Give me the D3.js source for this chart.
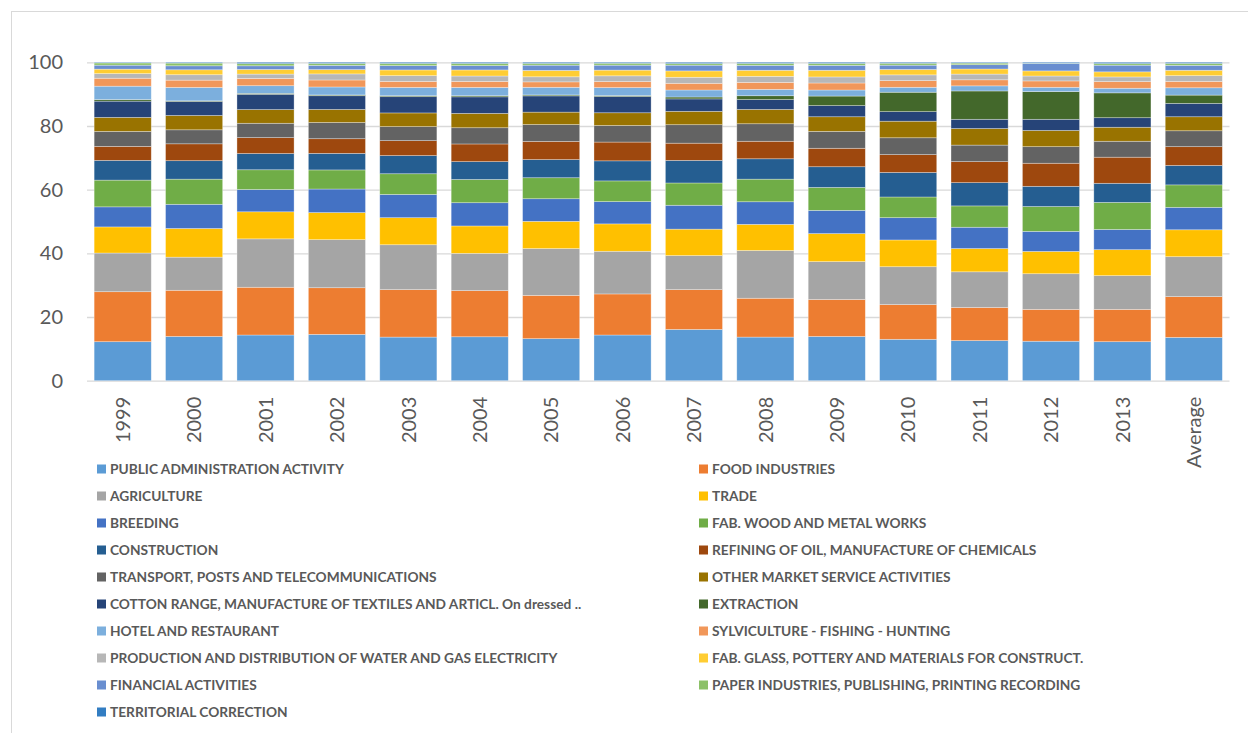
<!DOCTYPE html>
<html>
<head>
<meta charset="utf-8">
<script src="https://cdn.jsdelivr.net/npm/d3@7"></script>
<style>
  html, body { margin: 0; padding: 0; background: #ffffff; }
  svg { display: block; font-family: Lato, "Open Sans", sans-serif; }
</style>
</head>
<body>
<svg id="chart" width="1248" height="733"></svg>
<script>
// Categories along the x axis
const years = ["1999", "2000", "2001", "2002", "2003", "2004", "2005", "2006", "2007",
               "2008", "2009", "2010", "2011", "2012", "2013", "Average"];

// Share of each sector (%), one value per category
const publicAdmin  = [12.25, 13.9, 14.35, 14.55, 13.7, 13.8, 13.2, 14.35, 16.1, 13.7, 13.9, 13.0, 12.6, 12.4, 12.25, 13.6];
const food         = [15.7, 14.5, 15.0, 14.65, 14.9, 14.5, 13.6, 12.9, 12.5, 12.2, 11.6, 10.9, 10.4, 10.0, 10.15, 12.8];
const agriculture  = [12.15, 10.4, 15.2, 15.1, 14.1, 11.7, 14.7, 13.4, 10.7, 15.0, 11.9, 11.9, 11.2, 11.2, 10.6, 12.55];
const trade        = [8.2, 9.0, 8.5, 8.5, 8.5, 8.6, 8.55, 8.6, 8.3, 8.2, 8.8, 8.4, 7.3, 7.0, 8.15, 8.45];
const breeding     = [6.3, 7.6, 7.0, 7.4, 7.3, 7.3, 7.1, 7.0, 7.5, 7.1, 7.3, 7.0, 6.7, 6.3, 6.35, 7.05];
const woodMetal    = [8.4, 7.9, 6.2, 6.0, 6.5, 7.3, 6.6, 6.5, 7.0, 7.1, 7.2, 6.5, 6.7, 7.8, 8.5, 7.05];
const construction = [6.2, 5.8, 5.1, 5.2, 5.7, 5.6, 5.7, 6.3, 7.1, 6.4, 6.5, 7.7, 7.3, 6.35, 6.0, 6.1];
const refining     = [4.4, 5.3, 5.0, 4.6, 4.7, 5.55, 5.7, 5.9, 5.4, 5.5, 5.8, 5.6, 6.6, 7.25, 8.2, 5.9];
const transport    = [4.7, 4.4, 4.5, 5.1, 4.4, 5.1, 5.3, 5.2, 5.8, 5.5, 5.3, 5.3, 5.2, 5.2, 5.0, 5.0];
const otherMarket  = [4.4, 4.5, 4.3, 4.1, 4.3, 4.5, 3.9, 4.0, 4.2, 4.5, 4.6, 5.2, 5.2, 5.1, 4.4, 4.4];
const cotton       = [5.1, 4.4, 4.8, 4.3, 5.1, 5.2, 5.1, 5.1, 3.9, 3.1, 3.5, 3.0, 2.9, 3.5, 3.0, 4.2];
const extraction   = [0.5, 0.2, 0.3, 0.25, 0.3, 0.35, 0.3, 0.3, 0.6, 1.2, 3.0, 6.1, 8.9, 8.7, 7.8, 2.6];
const hotel        = [4.2, 4.2, 2.4, 2.5, 2.6, 2.6, 2.4, 2.5, 2.2, 2.0, 1.9, 1.55, 1.6, 1.35, 1.45, 2.3];
const sylviculture = [2.5, 2.3, 2.3, 2.2, 1.9, 1.9, 1.7, 1.9, 2.1, 2.2, 2.2, 2.1, 1.9, 2.0, 2.1, 2.0];
const utilities    = [1.45, 1.7, 1.35, 1.9, 1.8, 1.7, 1.6, 1.8, 1.9, 1.9, 1.9, 1.8, 1.8, 1.55, 1.45, 1.8];
const glass        = [1.4, 1.55, 1.45, 1.35, 1.8, 1.9, 2.0, 1.8, 2.0, 1.9, 2.1, 1.7, 1.6, 1.6, 1.6, 1.7];
const financial    = [1.25, 1.25, 1.15, 1.35, 1.35, 1.35, 1.65, 1.55, 1.8, 1.55, 1.55, 1.35, 1.35, 2.3, 2.1, 1.55];
const paper        = [0.7, 0.85, 0.7, 0.6, 0.7, 0.7, 0.55, 0.6, 0.5, 0.6, 0.6, 0.6, 0.5, 0.1, 0.5, 0.6];
const territorial  = [0.2, 0.25, 0.4, 0.35, 0.35, 0.35, 0.35, 0.3, 0.4, 0.35, 0.35, 0.3, 0.25, 0.3, 0.4, 0.35];

// Sector labels, in stacking order (bottom to top)
const seriesNames = [
  "PUBLIC ADMINISTRATION ACTIVITY",
  "FOOD INDUSTRIES",
  "AGRICULTURE",
  "TRADE",
  "BREEDING",
  "FAB. WOOD AND METAL WORKS",
  "CONSTRUCTION",
  "REFINING OF OIL, MANUFACTURE OF CHEMICALS",
  "TRANSPORT, POSTS AND TELECOMMUNICATIONS",
  "OTHER MARKET SERVICE ACTIVITIES",
  "COTTON RANGE, MANUFACTURE OF TEXTILES AND ARTICL. On dressed ..",
  "EXTRACTION",
  "HOTEL AND RESTAURANT",
  "SYLVICULTURE - FISHING - HUNTING",
  "PRODUCTION AND DISTRIBUTION OF WATER AND GAS ELECTRICITY",
  "FAB. GLASS, POTTERY AND MATERIALS FOR CONSTRUCT.",
  "FINANCIAL ACTIVITIES",
  "PAPER INDUSTRIES, PUBLISHING, PRINTING RECORDING",
  "TERRITORIAL CORRECTION"
];
const seriesValues = [publicAdmin, food, agriculture, trade, breeding, woodMetal, construction,
  refining, transport, otherMarket, cotton, extraction, hotel, sylviculture, utilities,
  glass, financial, paper, territorial];

const seriesColors = [
  "#5B9BD5", "#ED7D31", "#A5A5A5", "#FFC000", "#4472C4", "#70AD47", "#255E91",
  "#9E480E", "#636363", "#997300", "#264478", "#43682B", "#7CAFDD", "#F1975A",
  "#B7B7B7", "#FFCD33", "#698ED0", "#8CC168", "#327DC2"
];

const yTicks = [0, 20, 40, 60, 80, 100];

// Table: one row per category, one column per sector
const table = years.map((yr, i) => {
  const row = { year: yr };
  seriesNames.forEach((name, k) => { row[name] = seriesValues[k][i]; });
  return row;
});

const svg = d3.select("#chart");
const textColor = "#595959";
const gridColor = "#d9d9d9";

// Outer chart frame
svg.append("rect")
  .attr("x", 11.5).attr("y", 11.5)
  .attr("width", 1260).attr("height", 760)
  .attr("fill", "none").attr("stroke", gridColor).attr("stroke-width", 1);

const plotLeft = 87, plotRight = 1229.5, plotTop = 62.3, plotBottom = 380.7;

const x = d3.scaleBand().domain(years).range([plotLeft, plotRight])
  .paddingInner(0.2).paddingOuter(0.1);
const y = d3.scaleLinear().domain([0, 100]).range([plotBottom, plotTop]);
const color = d3.scaleOrdinal().domain(seriesNames).range(seriesColors);

// Value axis with horizontal gridlines
const yAxis = svg.append("g")
  .attr("transform", `translate(${plotLeft},0)`)
  .call(d3.axisLeft(y).tickValues(yTicks).tickSize(-(plotRight - plotLeft)).tickPadding(24));
yAxis.select(".domain").remove();
yAxis.selectAll(".tick line").attr("stroke", gridColor).attr("stroke-width", 1.3);
yAxis.selectAll(".tick text")
  .attr("fill", textColor).attr("font-size", 20)
  .attr("font-family", "Lato, 'Open Sans', sans-serif");

// Stacked bars
const stack = d3.stack().keys(seriesNames);
const layers = stack(table);

svg.append("g").selectAll("g")
  .data(layers)
  .join("g")
  .attr("fill", d => color(d.key))
  .selectAll("rect")
  .data(d => d)
  .join("rect")
  .attr("x", d => x(d.data.year))
  .attr("width", x.bandwidth())
  .attr("y", d => y(d[1]))
  .attr("height", d => Math.max(0, y(d[0]) - y(d[1])))
  .attr("stroke", "#ffffff")
  .attr("stroke-opacity", 0.45)
  .attr("stroke-width", 0.7);

// Category axis with rotated labels
const xAxis = svg.append("g")
  .attr("transform", `translate(0,${plotBottom})`)
  .call(d3.axisBottom(x).tickSize(0));
xAxis.select(".domain").remove();
xAxis.selectAll(".tick text")
  .attr("fill", textColor).attr("font-size", 20)
  .attr("font-family", "Lato, 'Open Sans', sans-serif")
  .attr("text-anchor", "end")
  .attr("transform", "rotate(-90)")
  .attr("x", -16).attr("y", 0).attr("dy", "0.36em");

// Legend, two columns filled row by row
const legend = svg.append("g");
const colX = [97, 699];
const rowY0 = 469, rowStep = 27, marker = 9;
const items = legend.selectAll("g")
  .data(seriesNames)
  .join("g")
  .attr("transform", (d, i) => `translate(${colX[i % 2]},${rowY0 + Math.floor(i / 2) * rowStep})`);
items.append("rect")
  .attr("x", 0).attr("y", -marker / 2)
  .attr("width", marker).attr("height", marker)
  .attr("fill", d => color(d));
const labels = items.append("text")
  .attr("x", 13).attr("dy", "0.36em")
  .attr("fill", textColor)
  .attr("font-weight", "bold")
  .attr("font-size", 13)
  .attr("font-family", "Lato, 'Open Sans', sans-serif")
  .text(d => d);

// Size legend type so the first label spans its usual width
const refWidth = labels.nodes()[0].getComputedTextLength();
const legendSize = 13 * 234 / refWidth;
labels.attr("font-size", legendSize);
</script>
</body>
</html>
